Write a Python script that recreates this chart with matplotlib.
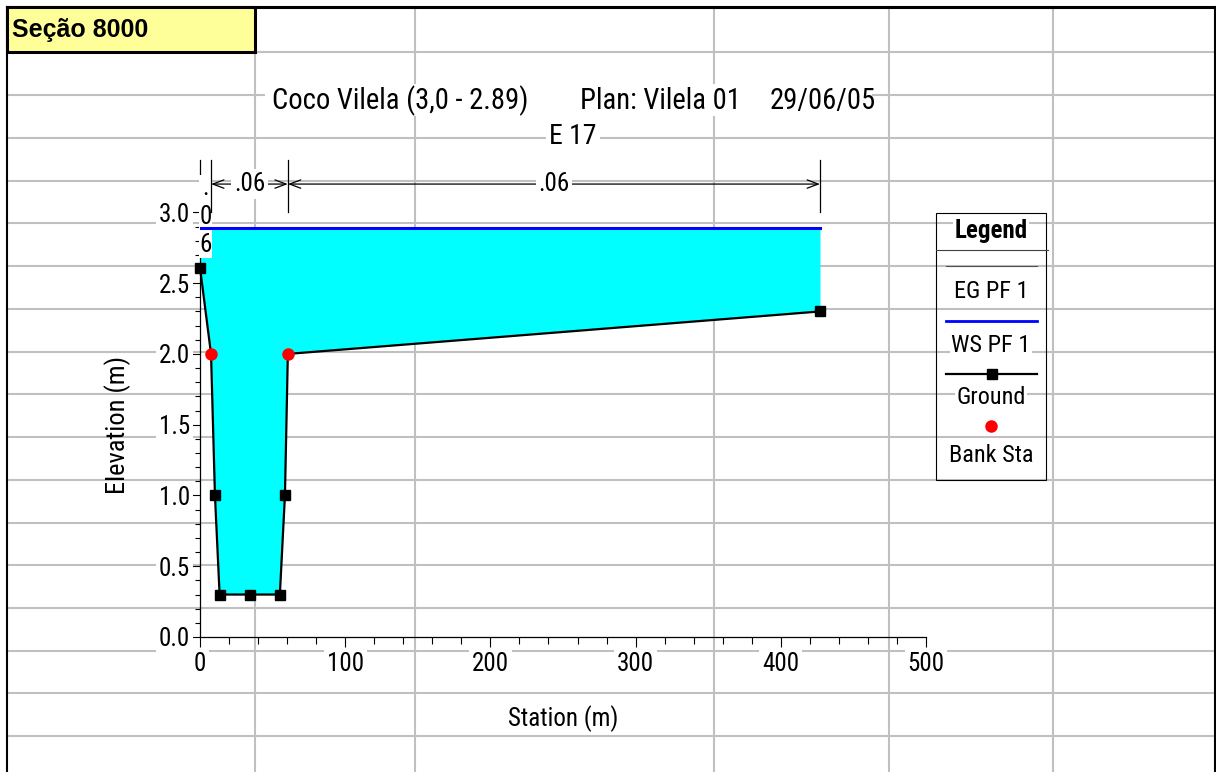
import numpy as np
import matplotlib
matplotlib.use("Agg")
import matplotlib.pyplot as plt
from matplotlib import font_manager as fm
from matplotlib.patches import Rectangle
from matplotlib.ticker import FixedLocator

# Cross section data (HEC-RAS, Secao 8000)
station = [0, 7.6, 10.3, 13.5, 34.5, 55.0, 58.5, 60.5, 427.0]
ground = [2.61, 2.0, 1.0, 0.3, 0.3, 0.3, 1.0, 2.0, 2.30]
bank_sta = [7.6, 60.5]
ws_elev = 2.89
eg_elev = 2.89
n_sta = [0, 7.6, 60.5, 427.0]
n_vals = [".06", ".06", ".06"]
x_ticks = [0, 100, 200, 300, 400, 500]
y_ticks = [0.0, 0.5, 1.0, 1.5, 2.0, 2.5, 3.0]


def has_font(name):
    try:
        fm.findfont(fm.FontProperties(family=name), fallback_to_default=False)
        return True
    except ValueError:
        return False


# HEC-RAS uses Arial Narrow; use a narrow face if one exists, else shrink Arial-like text
NARROW = ["Liberation Sans", "DejaVu Sans"]
K = 0.82
for cand in ["Liberation Sans Narrow", "Arial Narrow", "Roboto Condensed",
             "Open Sans Condensed", "DejaVu Sans Condensed"]:
    if has_font(cand):
        NARROW = [cand, "DejaVu Sans"]
        K = 1.0
        break
REG = ["Liberation Sans", "DejaVu Sans"]

W, H = 1216, 772
GRID = "#c0c0c0"

fig = plt.figure(figsize=(W / 100, H / 100), dpi=100)
fig.patch.set_facecolor("white")

# spreadsheet background, pixel coordinates
bg = fig.add_axes([0, 0, 1, 1], zorder=0)
bg.set_xlim(0, W)
bg.set_ylim(H, 0)
bg.axis("off")

rows = [95, 138, 181, 223, 266, 309, 352, 394, 437, 480, 523, 565, 608, 651, 693, 736]
cols = [415, 714, 889, 1053]
for y in rows:
    bg.plot([7, 1215], [y, y], color=GRID, lw=1.5, zorder=1)
bg.plot([255, 1215], [52, 52], color=GRID, lw=1.5, zorder=1)
for x in cols:
    bg.plot([x, x], [7, H], color=GRID, lw=1.5, zorder=1)
bg.plot([255, 255], [52, H], color=GRID, lw=1.5, zorder=1)
bg.plot([7, 1215], [7, 7], color="black", lw=2.2, zorder=3)
bg.plot([7, 7], [7, H], color="black", lw=1.5, zorder=3)
bg.plot([1215, 1215], [7, H], color="black", lw=1.5, zorder=3)

bg.add_patch(Rectangle((7, 7), 248, 45, facecolor="#ffff99", edgecolor="black",
                       lw=2.2, zorder=4))
bg.text(12, 30, "Seção 8000", family=REG, fontsize=18, fontweight="bold",
        ha="left", va="center", zorder=5)

# title row
bg.add_patch(Rectangle((265, 84), 607, 32, facecolor="white", edgecolor="none", zorder=2))
bg.text(272, 101, "Coco Vilela (3,0 - 2.89)", family=NARROW, fontsize=20.6 * K,
        ha="left", va="center", zorder=5)
bg.text(580, 101, "Plan: Vilela 01", family=NARROW, fontsize=20.6 * K,
        ha="left", va="center", zorder=5)
bg.text(770, 101, "29/06/05", family=NARROW, fontsize=20.6 * K,
        ha="left", va="center", zorder=5)
bg.text(573, 137, "E 17", family=NARROW, fontsize=20 * K, ha="center", va="center",
        zorder=5, bbox=dict(facecolor="white", edgecolor="none", pad=2))

# legend, drawn by hand like HEC-RAS
bg.add_patch(Rectangle((936, 213), 110, 267, facecolor="none", edgecolor="black",
                       lw=0.8, zorder=4))
bg.text(991, 231, "Legend", family=NARROW, fontsize=18 * K, fontweight="bold",
        ha="center", va="center", zorder=5,
        bbox=dict(facecolor="white", edgecolor="none", pad=1))
bg.plot([936, 1048], [250, 250], color="#404040", lw=0.8, zorder=4)
bg.plot([946, 1037], [266, 266], color="#505050", lw=0.8, zorder=4)
bg.plot([946, 1037], [321, 321], color="#0000ff", lw=2, zorder=4)
bg.plot([946, 1037], [374, 374], color="black", lw=1.6, zorder=4)
bg.plot([992], [374], marker="s", color="black", ms=6.5, zorder=5)
bg.plot([991], [426], marker="o", color="red", ms=9, mec="none", zorder=5)
for label, y in [("EG PF 1", 291), ("WS PF 1", 345), ("Ground", 398), ("Bank Sta", 455)]:
    bg.text(991, y, label, family=NARROW, fontsize=17.5 * K, ha="center", va="center",
            zorder=5, bbox=dict(facecolor="white", edgecolor="none", pad=1))

# chart
ax = fig.add_axes([200 / W, 1 - 637 / H, 726 / W, 477 / H], zorder=1)
ax.patch.set_alpha(0)
ax.set_xlim(0, 500)
ax.set_ylim(0, 3.37)
for s in ["top", "right"]:
    ax.spines[s].set_visible(False)
ax.spines["left"].set_linewidth(0.9)
ax.spines["bottom"].set_linewidth(0.9)

st = np.array(station)
gr = np.array(ground)
plain = [i for i, s in enumerate(station) if s not in bank_sta]
ax.fill_between(st, gr, ws_elev, where=gr <= ws_elev, color="#00ffff", lw=0, zorder=2)
ax.plot([st[0], st[-1]], [eg_elev, eg_elev], color="#505050", lw=0.8, zorder=3)
ax.plot([st[0], st[-1]], [ws_elev, ws_elev], color="#0000ff", lw=2.2, zorder=4)
ax.plot(st, gr, color="black", lw=1.6, marker="s", ms=6.5, markevery=plain,
        zorder=5, clip_on=False)
ax.plot(bank_sta, np.interp(bank_sta, st, gr), "o", color="red", ms=9,
        mec="none", zorder=6, clip_on=False)

# Manning's n segments
arrow_y = 3.2
for x in n_sta[1:]:
    ax.plot([x, x], [3.0, 3.37], color="black", lw=0.9, clip_on=False, zorder=5)
for i, n in enumerate(n_vals):
    a, b = n_sta[i], n_sta[i + 1]
    mid = (a + b) / 2
    if b - a < 20:
        ax.text(mid, 2.97, "\n".join(n), family=NARROW, fontsize=18 * K, ha="center",
                va="center", linespacing=1.25, zorder=3.5, clip_on=False,
                bbox=dict(facecolor="white", edgecolor="none", pad=0.5))
    else:
        ax.annotate("", xy=(a, arrow_y), xytext=(b, arrow_y), annotation_clip=False,
                    arrowprops=dict(arrowstyle="<->,head_length=0.8,head_width=0.3",
                                    color="black", lw=0.9, shrinkA=0, shrinkB=0))
        ax.text(mid, arrow_y, n, family=NARROW, fontsize=18 * K, ha="center",
                va="center", zorder=6,
                bbox=dict(facecolor="white", edgecolor="none", pad=2))

ax.xaxis.set_major_locator(FixedLocator(x_ticks))
ax.xaxis.set_minor_locator(FixedLocator(np.arange(0, 501, 20)))
ax.yaxis.set_major_locator(FixedLocator(y_ticks))
ax.yaxis.set_minor_locator(FixedLocator(np.arange(0, 3.01, 0.1)))
ax.set_xticklabels([str(v) for v in x_ticks])
ax.set_yticklabels([f"{v:.1f}" for v in y_ticks])
ax.tick_params(axis="x", which="major", direction="out", length=7, width=0.8, pad=4)
ax.tick_params(axis="x", which="minor", direction="out", length=5, width=0.8)
ax.tick_params(axis="y", which="major", direction="out", length=6, width=0.8, pad=1)
ax.tick_params(axis="y", which="minor", direction="out", length=3.5, width=0.8)
for t in ax.get_xticklabels() + ax.get_yticklabels():
    t.set_fontfamily(NARROW)
    t.set_fontsize(18 * K)
    t.set_bbox(dict(facecolor="white", edgecolor="none", pad=2))

ax.set_xlabel("Station (m)", family=NARROW, fontsize=18 * K, va="center")
ax.xaxis.set_label_coords(0.5, -0.17)
ax.set_ylabel("Elevation (m)", family=NARROW, fontsize=19 * K, va="center")
ax.yaxis.set_label_coords(-0.113, 1.5 / 3.37)

fig.savefig("out.png", dpi=100, facecolor="white")
